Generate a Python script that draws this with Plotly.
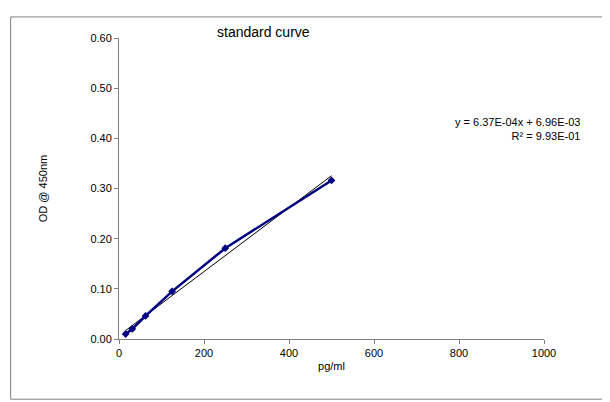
import plotly.graph_objects as go

conc = [15.6, 31.25, 62.5, 125, 250, 500]
od = [0.010, 0.020, 0.046, 0.095, 0.181, 0.316]
slope = 6.37e-4
intercept = 6.96e-3
fit_x = [min(conc), max(conc)]
fit_y = [slope * x + intercept for x in fit_x]

F = "Liberation Sans, Arial"
fig = go.Figure()
fig.add_trace(go.Scatter(x=fit_x, y=fit_y, mode="lines", line=dict(color="black", width=1), showlegend=False))
fig.add_trace(go.Scatter(x=conc, y=od, mode="lines+markers", line=dict(color="#000080", width=2.5),
                         marker=dict(symbol="diamond", size=6, color="#000080"), showlegend=False))
ax = dict(showgrid=False, zeroline=False, showline=True, linecolor="#808080", linewidth=1,
          ticks="outside", ticklen=4, tickcolor="#808080", tickfont=dict(family=F, size=11, color="black"))
fig.update_xaxes(range=[0, 1000], tickvals=[0, 200, 400, 600, 800, 1000],
                 title=dict(text="pg/ml", font=dict(family=F, size=11, color="black"), standoff=4), **ax)
fig.update_yaxes(range=[0, 0.6], tickvals=[0, 0.1, 0.2, 0.3, 0.4, 0.5, 0.6], tickformat=".2f",
                 title=dict(text="OD @ 450nm", font=dict(family=F, size=11, color="black"), standoff=40), **ax)
fig.add_annotation(x=0.34, xref="paper", y=1.0, yref="paper", yshift=16, text="standard curve", showarrow=False,
                   font=dict(family=F, size=14, color="black"), xanchor="center")
fig.add_annotation(x=1.09, xref="paper", y=0.72, yref="paper", yshift=8, text="y = 6.37E-04x + 6.96E-03<br>R² = 9.93E-01",
                   showarrow=False, align="right", xanchor="right",
                   font=dict(family=F, size=11, color="black"))
fig.update_layout(width=610, height=402, margin=dict(l=111, r=74, t=30, b=71),
                  plot_bgcolor="white", paper_bgcolor="white",
                  shapes=[dict(type="rect", xref="paper", yref="paper", x0=-0.255, x1=1.16, y0=-0.2, y1=1.07,
                               line=dict(color="#808080", width=1))])
fig.write_html("out.html")
